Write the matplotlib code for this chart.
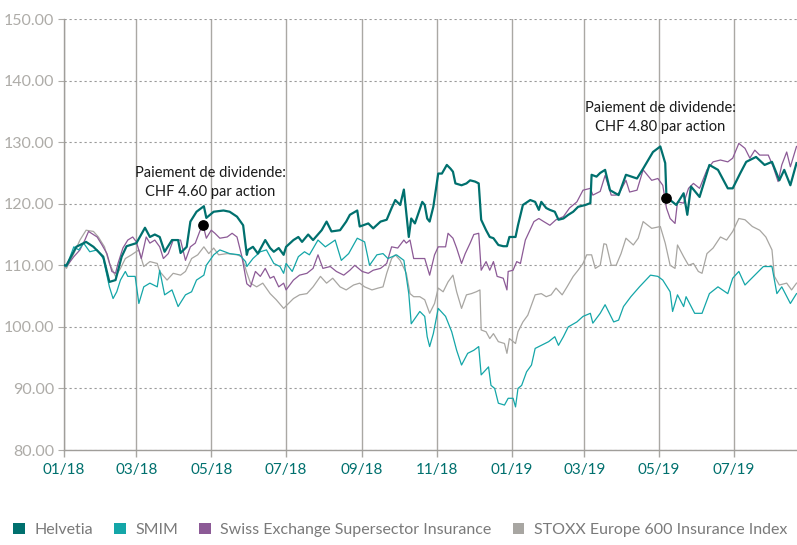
import matplotlib
matplotlib.use("Agg")
import matplotlib.pyplot as plt
import matplotlib.dates as mdates
from matplotlib.patches import Patch
import pandas as pd

plt.rcParams['font.family'] = ['Lato', 'DejaVu Sans']

start = pd.Timestamp("2018-01-01")

# Helvetia (days since 01.01.2018, indexed value)
helv_days = [0, 2, 10, 18, 24, 32, 37, 42, 47, 51, 59, 66, 70, 74, 78, 82, 88, 93, 95, 100,
             103, 108, 114, 116, 122, 130, 135, 141, 146, 149, 150, 154, 158, 164, 168, 171, 175,
             179, 181, 187, 191, 194, 199, 203, 210, 214, 218, 225, 230, 233, 239, 241, 248, 252,
             258, 263, 267, 270, 274, 277, 279, 281, 283, 286, 292, 294, 296, 298, 301, 305, 308,
             312, 315, 317, 319, 324, 328, 331, 335, 338, 340, 344, 347, 350, 354, 358, 361, 363,
             368, 370, 374, 380, 384, 387, 389, 393, 396, 400, 403, 407, 411, 415, 419, 425, 429,
             430, 434, 437, 441, 445, 452, 458, 467, 472, 480, 486, 490, 491, 499, 505, 508, 511,
             518, 526, 533, 541, 545, 551, 556, 564, 571, 577, 583, 587, 592, 597]
helv_vals = [110, 110, 113, 113.8, 113, 111.4, 107.3, 107.6, 111.4, 113.1, 113.6, 116.1, 114.6,
             115, 114.6, 112.2, 114.1, 114.1, 112, 113, 117.1, 118.7, 119.6, 117.7, 118.7, 118.9,
             118.7, 117.9, 116.5, 111.7, 112.5, 113, 111.9, 114.1, 112.8, 112.2, 112.8, 111.7,
             113, 114.1, 114.6, 113.8, 115, 114.1, 115.7, 117.1, 115.5, 115.7, 117.1, 118.2,
             118.9, 116.3, 116.8, 116, 117.1, 117.4, 119.3, 120.6, 119.8, 122.3, 118.4, 114.6,
             117.6, 116.8, 120.3, 119.8, 117.6, 117.1, 119.5, 124.9, 124.9, 126.3, 125.7, 125.2,
             123.3, 123, 123.3, 123.8, 123.6, 123.3, 117.4, 115.7, 114.6, 114.4, 113.3, 113.1,
             113.1, 114.6, 114.6, 116.5, 119.8, 120.6, 120.3, 119, 120.3, 119.3, 119, 118.7,
             117.4, 117.6, 118.2, 118.7, 119.5, 119.8, 120.1, 124.7, 124.4, 125, 125.5, 122.2,
             121.4, 124.7, 124.1, 125.7, 128.4, 129.3, 126.6, 121.1, 119.8, 121.7, 118.2, 122.8,
             121.1, 126.3, 125.5, 122.5, 122.5, 124.9, 126.8, 127.6, 126.3, 126.8, 123.8, 125.5,
             123, 126.6]

# SMIM
smim_days = [0, 2, 8, 12, 16, 21, 27, 32, 37, 40, 43, 46, 50, 52, 58, 61, 65, 70, 76, 78, 82,
             88, 93, 99, 104, 108, 114, 116, 122, 127, 135, 143, 148, 149, 154, 160, 165, 171,
             176, 179, 181, 186, 191, 196, 200, 207, 213, 221, 226, 232, 239, 245, 249, 255, 260,
             264, 271, 277, 281, 283, 290, 294, 296, 298, 301, 305, 311, 316, 320, 324, 329, 334,
             338, 340, 346, 348, 351, 354, 359, 362, 366, 368, 370, 373, 377, 381, 384, 389, 395,
             400, 403, 407, 411, 418, 423, 429, 431, 437, 441, 448, 452, 456, 462, 469, 478, 484,
             488, 494, 496, 500, 505, 507, 514, 520, 526, 533, 541, 545, 550, 555, 562, 570, 577,
             581, 585, 592, 597]
smim_vals = [110, 109.8, 113, 112.5, 113.6, 112.2, 112.5, 111.1, 106.5, 104.6, 105.7, 107.6,
             109, 108.2, 108.2, 103.8, 106.5, 107.1, 106.5, 109.2, 105.2, 106, 103.3, 105.2,
             105.7, 107.6, 108.4, 110, 111.7, 112.5, 111.9, 111.7, 110.6, 109.8, 111.1, 112.2,
             112.5, 110.3, 109.8, 108.7, 110.3, 109, 111.4, 112.2, 111.7, 114.1, 113, 114.1,
             110.8, 111.9, 114.4, 113.8, 110, 111.7, 111.9, 111.1, 111.7, 110.8, 105.4, 100.5,
             102.5, 101.7, 98.4, 96.8, 98.9, 103, 101.7, 99.2, 96.2, 93.8, 95.7, 96.2, 96.8,
             92.2, 93.5, 90.5, 90, 87.6, 87.3, 88.4, 88.4, 87, 90, 90.5, 92.7, 93.8, 96.5, 97,
             97.6, 98.4, 97, 98.4, 100, 100.8, 101.7, 102.2, 100.6, 102.2, 103.6, 100.8, 101.1,
             103.3, 104.9, 106.5, 108.4, 108.2, 107.6, 105.7, 102.5, 105.2, 103.3, 104.9, 102.2,
             102.2, 105.4, 106.5, 105.4, 107.9, 109, 106.8, 108.2, 109.8, 109.8, 105.4, 106.5,
             103.8, 105.4]

# Swiss Exchange Supersector Insurance
ins_days = [0, 2, 8, 13, 17, 20, 27, 31, 35, 39, 42, 44, 48, 52, 56, 59, 63, 67, 70, 74, 78,
            81, 85, 89, 95, 99, 103, 107, 111, 114, 116, 120, 123, 127, 133, 137, 141, 145, 149,
            152, 156, 160, 164, 168, 171, 175, 179, 181, 187, 192, 198, 203, 207, 211, 217, 222,
            228, 233, 237, 243, 248, 252, 258, 263, 267, 272, 277, 279, 282, 285, 290, 294, 298,
            302, 305, 311, 313, 317, 320, 324, 327, 331, 334, 338, 340, 344, 347, 350, 353, 358,
            361, 362, 366, 369, 372, 376, 383, 387, 391, 396, 401, 407, 412, 418, 423, 429, 431,
            437, 441, 446, 450, 453, 458, 461, 467, 472, 479, 484, 488, 491, 494, 498, 500, 505,
            509, 513, 518, 524, 529, 535, 541, 545, 550, 555, 559, 563, 567, 574, 578, 582, 585,
            589, 592, 597]
ins_vals = [110, 109.8, 111.4, 112.5, 114.1, 115.5, 114.6, 113.3, 111.9, 109, 108.7, 110.3,
            112.8, 114.1, 114.6, 113.8, 111.1, 114.6, 113.6, 114.1, 113, 111.1, 111.9, 114.1,
            114.1, 110.8, 113, 113.6, 115.7, 116, 114.4, 115.7, 115.2, 114.4, 114.6, 115.2,
            114.6, 111.4, 107, 106.5, 109, 108.2, 109.5, 107.9, 108.2, 106.5, 107.1, 106, 107.6,
            108.4, 108.7, 109.5, 111.7, 109.5, 109.8, 109, 108.4, 109.2, 110, 109, 108.7, 109.2,
            109.5, 110.3, 113, 112.8, 114.1, 113.6, 114.1, 111.1, 111.1, 111.1, 108.4, 111.7,
            113, 113, 115.2, 114.4, 112.8, 110.3, 111.9, 113.6, 115, 115.2, 109.2, 110.6, 109.2,
            110.6, 108.2, 107.9, 106, 109, 109.2, 110.6, 110.3, 114.1, 117.1, 117.6, 117.1,
            116.5, 117.4, 117.9, 119.3, 120.3, 122.2, 122.5, 121.4, 122, 124.6, 121.4, 121.4,
            121.9, 123.8, 121.9, 122.2, 125.5, 123.8, 124.1, 123, 119.3, 117.6, 116.8, 120.3,
            120.1, 122.5, 123.3, 122.5, 125.5, 126.8, 127.1, 126.8, 127.4, 129.8, 129, 127.4,
            128.7, 127.9, 127.9, 126, 123.6, 126.3, 128.4, 126, 129.3]

# STOXX Europe 600 Insurance Index
stoxx_days = [0, 2, 8, 13, 18, 24, 28, 33, 37, 42, 46, 50, 55, 61, 65, 70, 76, 78, 84, 89, 95,
              99, 104, 109, 114, 118, 122, 126, 133, 141, 145, 149, 152, 157, 162, 168, 173, 179,
              183, 187, 192, 198, 203, 209, 214, 219, 225, 230, 236, 241, 245, 251, 256, 260, 263,
              267, 270, 274, 279, 282, 285, 290, 294, 298, 302, 305, 309, 313, 317, 320, 324, 328,
              332, 336, 339, 340, 344, 347, 350, 354, 359, 361, 363, 368, 370, 374, 378, 384, 389,
              393, 397, 401, 406, 410, 415, 419, 423, 426, 430, 433, 437, 440, 442, 446, 450, 454,
              458, 464, 468, 472, 479, 486, 490, 494, 498, 500, 505, 509, 513, 517, 520, 524, 529,
              535, 540, 545, 550, 555, 561, 567, 572, 577, 579, 583, 589, 593, 597]
stoxx_vals = [110, 109.5, 111.9, 114.1, 115.7, 115.5, 114.6, 113, 110.3, 108.2, 109.5, 111.1,
              111.7, 112.5, 109.8, 110.6, 110.3, 109, 107.6, 108.7, 108.4, 109, 111.1, 111.7, 113,
              111.9, 112.8, 111.7, 111.9, 111.7, 111.4, 108.8, 107.1, 106.5, 107.1, 105.4, 104.4,
              103, 103.8, 104.6, 105.2, 105.4, 106.5, 108.2, 107.1, 107.9, 106.5, 106, 106.8,
              107.1, 106.5, 106, 106.3, 106.5, 108.7, 111.1, 111.7, 110.8, 108.7, 105.4, 104.9,
              104.9, 104.4, 102.2, 103.8, 106.3, 105.7, 107.3, 108.4, 105.7, 103, 105.2, 105.4,
              105.7, 106, 99.5, 99.2, 98.1, 98.9, 97.6, 97.3, 95.7, 98.1, 97.3, 99.2, 100.8, 101.9,
              105.2, 105.4, 104.9, 105.2, 106.3, 105.2, 106.5, 108.2, 109.2, 110.3, 111.7, 111.7,
              109.5, 110, 113.5, 113.4, 110, 110, 111.9, 114.4, 113.3, 114.4, 117.1, 116, 116.3,
              113.6, 110, 109.5, 113.3, 111.4, 110, 110.3, 109, 108.7, 111.9, 112.8, 114.6, 114.1,
              115.5, 117.6, 117.4, 116.3, 115.7, 114.6, 112.5, 108.2, 106.8, 107.1, 106, 107.1]

# dividend payments
div_days = [113, 491]
div_vals = [116.5, 121]
div_text = ["Paiement de dividende:\nCHF 4.60 par action",
            "Paiement de dividende:\nCHF 4.80 par action"]
div_text_days = [119, 486]
div_text_vals = [123.5, 134]

names = ["Helvetia", "SMIM", "Swiss Exchange Supersector Insurance",
         "STOXX Europe 600 Insurance Index"]
colors = ["#00706e", "#14a6a8", "#8c5a96", "#a8a6a2"]


def to_dates(days):
    return start + pd.to_timedelta(days, unit="D")


fig = plt.figure(figsize=(7.97, 5.45), dpi=100)
ax = fig.add_axes([0.0803, 0.1743, 0.9197, 0.7908])

ax.plot(to_dates(stoxx_days), stoxx_vals, color=colors[3], lw=0.9, zorder=3)
ax.plot(to_dates(ins_days), ins_vals, color=colors[2], lw=0.9, zorder=3)
ax.plot(to_dates(smim_days), smim_vals, color=colors[1], lw=0.9, zorder=4)
ax.plot(to_dates(helv_days), helv_vals, color=colors[0], lw=1.6, zorder=5)

ax.scatter(to_dates(div_days), div_vals, s=45, color="black", zorder=6)
for d, v, t in zip(div_text_days, div_text_vals, div_text):
    ax.text(to_dates([d])[0], v, t, ha="center", va="center", fontsize=10.5,
            color="#1a1a1a", linespacing=1.45, zorder=7)

ax.set_xlim(start, to_dates([597.4])[0])
ax.set_ylim(80, 150)
ax.set_yticks(range(80, 151, 10))
ax.yaxis.set_major_formatter(matplotlib.ticker.FormatStrFormatter("%.2f"))
ax.xaxis.set_major_locator(mdates.MonthLocator(bymonth=[1, 3, 5, 7, 9, 11]))
ax.xaxis.set_major_formatter(mdates.DateFormatter("%m/%y"))

ax.grid(axis="y", color="#9a9a9a", linestyle=(0, (2, 2.5)), lw=0.8)
ax.grid(axis="x", color="#aaa8a4", linestyle="-", lw=1.0)
ax.set_axisbelow(True)

for s in ["top", "right"]:
    ax.spines[s].set_visible(False)
for s in ["left", "bottom"]:
    ax.spines[s].set_color("#a09e9a")
    ax.spines[s].set_linewidth(1.0)

ax.tick_params(axis="y", colors="#aeaca8", length=4, width=0.8, labelsize=11.5, pad=3)
ax.tick_params(axis="x", color="#a8a6a2", labelcolor="#00706e", length=5, width=1.0,
               labelsize=11, pad=4)

handles = [Patch(facecolor=c, edgecolor="none") for c in colors]
fig.legend(handles, names, loc="lower left", bbox_to_anchor=(-0.002, -0.012), ncol=4,
           frameon=False, fontsize=11.5, handlelength=0.75, handleheight=0.75,
           handletextpad=0.6, columnspacing=1.3, labelcolor="#7a7a7a")

fig.savefig("out.png", dpi=100)
